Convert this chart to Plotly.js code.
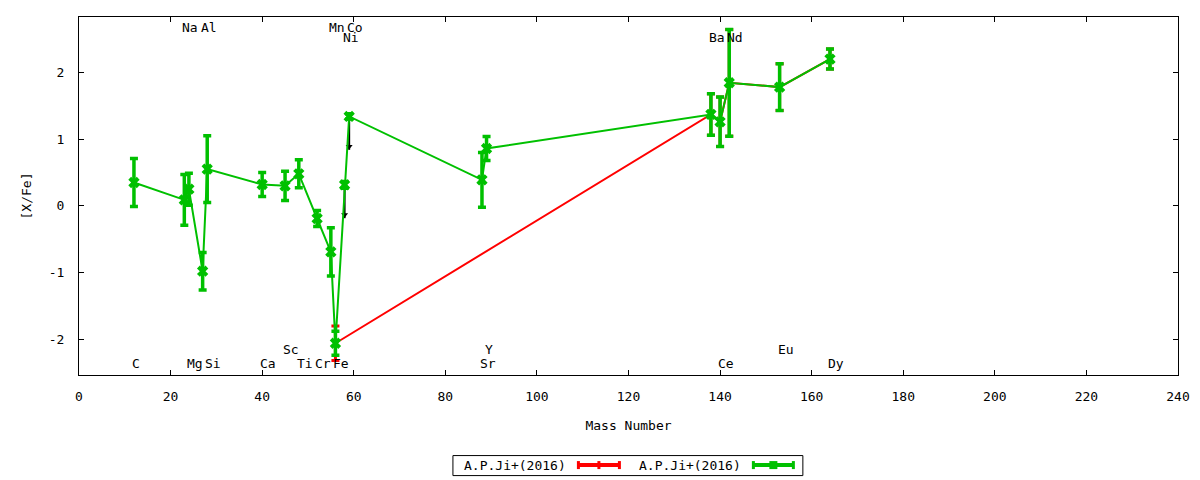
<!DOCTYPE html>
<html>
<head>
<meta charset="utf-8">
<script src="https://cdn.plot.ly/plotly-3.0.1.min.js"></script>
<style>
html,body{margin:0;padding:0;background:#fff;}
#chart{width:1200px;height:480px;}
</style>
</head>
<body>
<div id="chart"></div>
<script>
// ---- data ----
const seriesNames = ['A.P.Ji+(2016)', 'A.P.Ji+(2016)'];

// green series (full set of elements)
const greenElements = ['C','Na','Mg','Al','Si','Ca','Sc','Ti','Cr','Mn','Fe','Ni','Co','Sr','Y','Ba','Ce','Nd','Eu','Dy'];
const greenMass = [12,23,24,27,28,40,45,48,52,55,56,58,59,88,89,138,140,142,153,164];
const greenXFe  = [0.35,0.09,0.25,-0.98,0.55,0.32,0.30,0.48,-0.19,-0.69,-2.06,0.315,1.34,0.39,0.86,1.37,1.26,1.845,1.78,2.20];
const greenErr  = [0.36,0.38,0.24,0.28,0.50,0.18,0.22,0.21,0.12,0.36,0.18,0.05,0.04,0.41,0.18,0.31,0.37,0.80,0.35,0.15];

// red series
const redElements = ['Fe','Ba','Ce','Nd','Eu','Dy'];
const redMass = [56,138,140,142,153,164];
const redXFe  = [-2.06,1.37,1.26,1.845,1.78,2.20];
const redErr  = [0.26,0.31,0.37,0.80,0.35,0.15];

// upper limits (arrows pointing down)
const limitMass = [58,59];
const limitXFe  = [0.315,1.34];
const limitLength = [0.5,0.5];

// element labels
const labelText = ['Na','Al','Mn','Co','Ni','Ba','Nd','C','Mg','Si','Ca','Ti','Cr','Fe','Sr','Ce','Dy','Sc','Y','Eu'];
const labelX    = [23,27,55,59,58,138,142,12,24,28,40,48,52,56,88,140,164,45,89,153];
const labelY    = [2.68,2.68,2.68,2.68,2.53,2.53,2.53,-2.36,-2.36,-2.36,-2.36,-2.36,-2.36,-2.36,-2.36,-2.36,-2.36,-2.15,-2.15,-2.15];

const xTicks = [0,20,40,60,80,100,120,140,160,180,200,220,240];
const yTicks = [-2,-1,0,1,2];

// ---- styling ----
const FONT = 'DejaVu Sans Mono, monospace';
const GREEN = '#00c000';
const RED = '#ff0000';

const limX = [], limY = [], headX = [], headY = [];
limitMass.forEach((m, i) => {
  limX.push(m, m, null);
  limY.push(limitXFe[i], limitXFe[i] - limitLength[i], null);
  headX.push(m);
  headY.push(limitXFe[i] - limitLength[i] + 0.05);
});

const traces = [
  {
    x: redMass, y: redXFe, type: 'scatter', mode: 'lines+markers', name: seriesNames[0],
    text: redElements,
    line: {color: RED, width: 2},
    marker: {color: RED, symbol: 'line-ns', size: 7, line: {color: RED, width: 2}},
    error_y: {type: 'data', array: redErr, visible: true, color: RED, thickness: 3, width: 4},
    showlegend: false, cliponaxis: false
  },
  {
    x: limX, y: limY, type: 'scatter', mode: 'lines',
    line: {color: '#000000', width: 2}, showlegend: false, hoverinfo: 'skip'
  },
  {
    x: headX, y: headY, type: 'scatter', mode: 'markers',
    marker: {color: '#000000', symbol: 'triangle-down', size: 6}, showlegend: false, hoverinfo: 'skip'
  },
  {
    x: greenMass, y: greenXFe, type: 'scatter', mode: 'lines+markers', name: seriesNames[1],
    text: greenElements,
    line: {color: GREEN, width: 2},
    marker: {color: GREEN, symbol: 'x', size: 10},
    error_y: {type: 'data', array: greenErr, visible: true, color: GREEN, thickness: 3.5, width: 4},
    showlegend: false, cliponaxis: false
  }
];

const annotations = labelText.map((t, i) => ({
  x: labelX[i], y: labelY[i], xref: 'x', yref: 'y', text: t, showarrow: false,
  xanchor: 'left', yanchor: 'middle', xshift: -4,
  font: {family: FONT, size: 13, color: '#000'}
}));

// manual gnuplot-style key
const px2x = px => (px - 78.5) / 1099.2;
const py2y = py => (375 - py) / 357.7;
const keyY = py2y(465);
annotations.push(
  {x: px2x(462), y: keyY, xref: 'paper', yref: 'paper', text: seriesNames[0], showarrow: false,
   xanchor: 'left', yanchor: 'middle', font: {family: FONT, size: 13, color: '#000'}},
  {x: px2x(637), y: keyY, xref: 'paper', yref: 'paper', text: seriesNames[1], showarrow: false,
   xanchor: 'left', yanchor: 'middle', font: {family: FONT, size: 13, color: '#000'}}
);

const capH = 4 / 357.7;
function keySample(x0px, x1px, color, mid) {
  const s = [];
  const x0 = px2x(x0px), x1 = px2x(x1px), xm = px2x((x0px + x1px) / 2);
  s.push({type: 'line', xref: 'paper', yref: 'paper', x0: x0, x1: x1, y0: keyY, y1: keyY, line: {color: color, width: 4}});
  s.push({type: 'line', xref: 'paper', yref: 'paper', x0: x0, x1: x0, y0: keyY - capH, y1: keyY + capH, line: {color: color, width: 3}});
  s.push({type: 'line', xref: 'paper', yref: 'paper', x0: x1, x1: x1, y0: keyY - capH, y1: keyY + capH, line: {color: color, width: 3}});
  if (mid === 'tick') {
    s.push({type: 'line', xref: 'paper', yref: 'paper', x0: xm, x1: xm, y0: keyY - capH, y1: keyY + capH, line: {color: color, width: 3}});
  } else {
    s.push({type: 'rect', xref: 'paper', yref: 'paper', x0: px2x((x0px + x1px) / 2 - 4), x1: px2x((x0px + x1px) / 2 + 4),
            y0: keyY - capH, y1: keyY + capH, fillcolor: color, line: {color: color, width: 0}});
  }
  return s;
}
const shapes = [
  {type: 'rect', xref: 'paper', yref: 'paper', x0: px2x(452.5), x1: px2x(802.5), y0: py2y(475.5), y1: py2y(455.5),
   line: {color: '#000', width: 1}, fillcolor: 'rgba(0,0,0,0)'}
].concat(keySample(578, 619, RED, 'tick'), keySample(753, 793, GREEN, 'box'));

const layout = {
  width: 1200, height: 480,
  margin: {l: 78.5, r: 22.3, t: 17.3, b: 105},
  paper_bgcolor: '#ffffff', plot_bgcolor: '#ffffff',
  font: {family: FONT, size: 13, color: '#000'},
  showlegend: false,
  xaxis: {
    range: [0, 240], tickvals: xTicks, ticktext: xTicks.map(String),
    ticks: 'inside', ticklen: 5, tickcolor: '#000', tickwidth: 1,
    showline: true, linecolor: '#000', linewidth: 1, mirror: 'allticks',
    showgrid: false, zeroline: false, ticklabelstandoff: 9,
    tickfont: {family: FONT, size: 13, color: '#000'},
    title: {text: 'Mass Number', font: {family: FONT, size: 13, color: '#000'}, standoff: 18}
  },
  yaxis: {
    range: [-2.536, 2.831], tickvals: yTicks, ticktext: yTicks.map(v => v < 0 ? '-' + Math.abs(v) : String(v)),
    ticks: 'inside', ticklen: 5, tickcolor: '#000', tickwidth: 1,
    showline: true, linecolor: '#000', linewidth: 1, mirror: 'allticks',
    showgrid: false, zeroline: false, ticklabelstandoff: 11,
    tickfont: {family: FONT, size: 13, color: '#000'},
    title: {text: '[X/Fe]', font: {family: FONT, size: 13, color: '#000'}, standoff: 14}
  },
  annotations: annotations,
  shapes: shapes
};

Plotly.newPlot('chart', traces, layout, {displayModeBar: false, staticPlot: true});
</script>
</body>
</html>
